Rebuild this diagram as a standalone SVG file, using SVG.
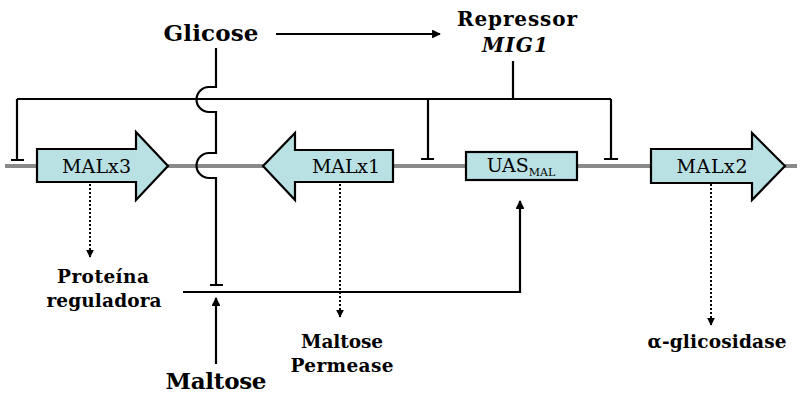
<svg xmlns="http://www.w3.org/2000/svg" width="802" height="395" viewBox="0 0 802 395">
<defs>
<style>
.ln{fill:none;stroke:#000;stroke-width:2.2}
.dot{fill:none;stroke:#000;stroke-width:2;stroke-dasharray:2 2}
.gene{fill:#b9e0e3;stroke:#000;stroke-width:2.2;stroke-linejoin:miter}
.gl{font-family:"DejaVu Serif",serif;font-size:19px;fill:#000}
.bl{font-family:"DejaVu Serif",serif;font-weight:bold;fill:#000}
</style>
<marker id="ah" viewBox="0 0 10 10" refX="9" refY="5" markerWidth="4" markerHeight="4" orient="auto" markerUnits="strokeWidth">
<path d="M0,0 L10,5 L0,10 z" fill="#000"/>
</marker>
<marker id="ahs" viewBox="0 0 10 10" refX="9" refY="5" markerWidth="4" markerHeight="4" orient="auto" markerUnits="strokeWidth">
<path d="M0,0 L10,5 L0,10 z" fill="#000"/>
</marker>
</defs>
<rect width="802" height="395" fill="#fff"/>
<g id="dna">
<line x1="5" y1="166" x2="797" y2="166" stroke="#8a8a8a" stroke-width="4"/>
</g>
<g id="connectors">
<line class="ln" x1="276" y1="34" x2="440" y2="34" marker-end="url(#ah)"/>
<path class="ln" d="M513,61 V99 M17,99 H611 M17,99 V160 M11,160 H24 M428,99 V159 M421,159 H434 M611,99 V159 M604,159 H618"/>
<path class="ln" d="M216,48 V87 H209 A12.5,12.5 0 0 0 209,112 H216 V153 H209 A12.5,12.5 0 0 0 209,178 H216 V285 M210,285 H223"/>
<path class="ln" d="M183,292 H520 V201" marker-end="url(#ah)"/>
<line class="ln" x1="216" y1="364" x2="216" y2="298" marker-end="url(#ah)"/>
<line class="dot" x1="90" y1="184" x2="90" y2="257" marker-end="url(#ahs)"/>
<line class="dot" x1="340" y1="184" x2="340" y2="317" marker-end="url(#ahs)"/>
<line class="dot" x1="711" y1="184" x2="711" y2="325" marker-end="url(#ahs)"/>
</g>
<g id="malx3">
<path class="gene" d="M37,149 H136 V132 L168,166 L136,200 V182 H37 Z"/>
<text class="gl" x="96.5" y="173" text-anchor="middle" textLength="69">MALx3</text>
</g>
<g id="malx1">
<path class="gene" d="M393,150 H295 V133 L263,166 L295,200 V182 H393 Z"/>
<text class="gl" x="346" y="173" text-anchor="middle" textLength="68">MALx1</text>
</g>
<g id="uas">
<rect class="gene" x="466" y="152" width="111" height="28"/>
<text class="gl" x="521" y="172" text-anchor="middle" font-size="16">UAS<tspan font-size="11" dy="4">MAL</tspan></text>
</g>
<g id="malx2">
<path class="gene" d="M651,149 H752 V133 L785,166 L752,200 V183 H651 Z"/>
<text class="gl" x="712" y="173" text-anchor="middle" textLength="71">MALx2</text>
</g>
<g id="glicose">
<text class="bl" x="211" y="41" font-size="23" text-anchor="middle" textLength="95">Glicose</text>
</g>
<g id="repressor">
<text class="bl" x="517" y="26" font-size="20" text-anchor="middle" textLength="120">Repressor</text>
<text class="bl" x="515" y="52" font-size="20" font-style="italic" text-anchor="middle" textLength="66">MIG1</text>
</g>
<g id="proteina">
<text class="bl" x="103" y="283" font-size="18.5" text-anchor="middle" textLength="92">Proteína</text>
<text class="bl" x="104" y="307" font-size="18.5" text-anchor="middle" textLength="115">reguladora</text>
</g>
<g id="maltose">
<text class="bl" x="216" y="389" font-size="23" text-anchor="middle" textLength="101">Maltose</text>
</g>
<g id="permease">
<text class="bl" x="342" y="348" font-size="18.5" text-anchor="middle" textLength="82">Maltose</text>
<text class="bl" x="342" y="372" font-size="18.5" text-anchor="middle" textLength="103">Permease</text>
</g>
<g id="glicosidase">
<text class="bl" x="717" y="348" font-size="18.5" text-anchor="middle" textLength="139">α-glicosidase</text>
</g>
</svg>
